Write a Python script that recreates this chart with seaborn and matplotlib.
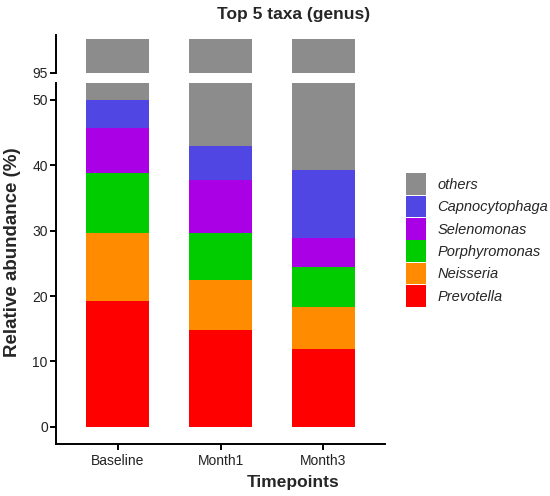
import pandas as pd
import matplotlib
matplotlib.use('Agg')
import matplotlib.pyplot as plt
from matplotlib.patches import Patch
import seaborn as sns

sns.set_style('white')
plt.rcParams['font.family'] = ['Liberation Sans', 'DejaVu Sans']

timepoints = ['Baseline', 'Month1', 'Month3']
taxa = ['Prevotella', 'Neisseria', 'Porphyromonas', 'Selenomonas', 'Capnocytophaga', 'others']
prevotella = [19.2, 14.8, 11.9]
neisseria = [10.4, 7.7, 6.5]
porphyromonas = [9.2, 7.1, 6.0]
selenomonas = [6.9, 8.2, 4.5]
capnocytophaga = [4.3, 5.1, 10.3]
others = [50.0, 57.1, 60.8]
colors = ['#ff0000', '#ff8c00', '#00cc00', '#aa00e6', '#4f46e3', '#8c8c8c']

values = [prevotella, neisseria, porphyromonas, selenomonas, capnocytophaga, others]
df = pd.DataFrame({t: v for t, v in zip(taxa, values)}, index=timepoints)
cum = df.cumsum(axis=1)

fig = plt.figure(figsize=(5.5, 4.96), dpi=100)
ax_top = fig.add_axes([0.102, 0.853, 0.598, 0.076])
ax_bot = fig.add_axes([0.102, 0.105, 0.598, 0.728])

# draw cumulative totals tallest first so each layer covers the one before
for ax in (ax_top, ax_bot):
    for taxon, col in zip(taxa[::-1], colors[::-1]):
        d = pd.DataFrame({'Timepoint': timepoints, 'top': cum[taxon].values})
        sns.barplot(data=d, x='Timepoint', y='top', color=col, saturation=1,
                    width=0.61, ax=ax, linewidth=0)
    ax.set_xlim(-0.6, 2.6)
    ax.set_xlabel('')
    ax.set_ylabel('')
    for s in ['top', 'right']:
        ax.spines[s].set_visible(False)
    ax.spines['left'].set_linewidth(1.4)
    ax.spines['left'].set_color('black')
    ax.tick_params(axis='y', length=4, width=1.4, color='black', labelsize=10,
                   labelcolor='#222222', left=True, pad=2)

ax_bot.set_ylim(-2.6, 52.6)
ax_bot.set_yticks([0, 10, 20, 30, 40, 50])
ax_bot.spines['bottom'].set_linewidth(1.4)
ax_bot.spines['bottom'].set_color('black')
ax_bot.tick_params(axis='x', length=4, width=1.4, color='black', labelsize=10,
                   labelcolor='#222222', bottom=True, pad=3)

ax_top.set_ylim(94.95, 100.5)
ax_top.set_yticks([95])
ax_top.spines['bottom'].set_visible(False)
ax_top.set_xticks([])

fig.text(0.533, 1 - 14 / 496, 'Top 5 taxa (genus)', ha='center', va='center',
         fontsize=12.5, fontweight='bold')
fig.text(0.533, 1 - 483 / 496, 'Timepoints', ha='center', va='center',
         fontsize=12.5, fontweight='bold')
fig.text(13 / 550, 1 - 252 / 496, 'Relative abundance (%)', ha='center', va='center',
         rotation=90, fontsize=13.5, fontweight='bold')

handles = [Patch(facecolor=c, edgecolor='none') for c in colors[::-1]]
leg = fig.legend(handles, taxa[::-1], loc='center left', bbox_to_anchor=(406 / 550, 0.516),
                 frameon=False, fontsize=10.5, handlelength=1.4, handleheight=1.9,
                 labelspacing=0.05, handletextpad=0.75, borderpad=0, borderaxespad=0)
for t in leg.get_texts():
    t.set_fontstyle('italic')

fig.savefig('out.png', dpi=100)
